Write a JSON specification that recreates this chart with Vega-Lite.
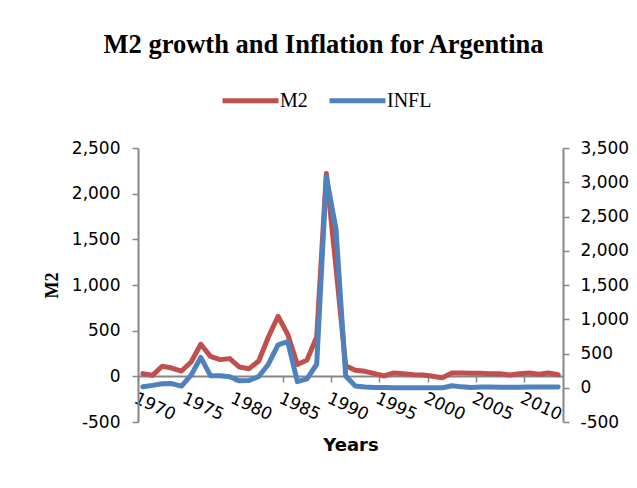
{
  "$schema": "https://vega.github.io/schema/vega-lite/v6.json",
  "width": 425,
  "height": 274,
  "autosize": {"type": "none"},
  "padding": {"left": 138, "top": 148, "right": 74, "bottom": 66},
  "background": "white",
  "title": {
    "text": "M2 growth and Inflation for  Argentina",
    "font": "Liberation Serif",
    "fontSize": 26.5,
    "fontWeight": "bold",
    "color": "black",
    "anchor": "middle",
    "dx": -27,
    "offset": 12
  },
  "data": {
    "values": [
      {"year": 1970, "M2": 30, "INFL": 14},
      {"year": 1971, "M2": 11, "INFL": 35},
      {"year": 1972, "M2": 110, "INFL": 58},
      {"year": 1973, "M2": 91, "INFL": 61},
      {"year": 1974, "M2": 58, "INFL": 24},
      {"year": 1975, "M2": 157, "INFL": 183},
      {"year": 1976, "M2": 351, "INFL": 444},
      {"year": 1977, "M2": 219, "INFL": 176},
      {"year": 1978, "M2": 183, "INFL": 175},
      {"year": 1979, "M2": 194, "INFL": 160},
      {"year": 1980, "M2": 102, "INFL": 101},
      {"year": 1981, "M2": 84, "INFL": 105},
      {"year": 1982, "M2": 168, "INFL": 165},
      {"year": 1983, "M2": 431, "INFL": 344},
      {"year": 1984, "M2": 658, "INFL": 627},
      {"year": 1985, "M2": 460, "INFL": 672},
      {"year": 1986, "M2": 130, "INFL": 90},
      {"year": 1987, "M2": 180, "INFL": 131},
      {"year": 1988, "M2": 430, "INFL": 343},
      {"year": 1989, "M2": 2222, "INFL": 3080},
      {"year": 1990, "M2": 1190, "INFL": 2314},
      {"year": 1991, "M2": 115, "INFL": 172},
      {"year": 1992, "M2": 66, "INFL": 25},
      {"year": 1993, "M2": 55, "INFL": 11},
      {"year": 1994, "M2": 29, "INFL": 4},
      {"year": 1995, "M2": 4, "INFL": 3},
      {"year": 1996, "M2": 37, "INFL": 0},
      {"year": 1997, "M2": 29, "INFL": 1},
      {"year": 1998, "M2": 18, "INFL": 1},
      {"year": 1999, "M2": 15, "INFL": -1},
      {"year": 2000, "M2": 0, "INFL": -1},
      {"year": 2001, "M2": -15, "INFL": -1},
      {"year": 2002, "M2": 37, "INFL": 30},
      {"year": 2003, "M2": 37, "INFL": 13},
      {"year": 2004, "M2": 33, "INFL": 4},
      {"year": 2005, "M2": 33, "INFL": 10},
      {"year": 2006, "M2": 29, "INFL": 11},
      {"year": 2007, "M2": 29, "INFL": 9},
      {"year": 2008, "M2": 15, "INFL": 9},
      {"year": 2009, "M2": 29, "INFL": 6},
      {"year": 2010, "M2": 37, "INFL": 10},
      {"year": 2011, "M2": 22, "INFL": 10},
      {"year": 2012, "M2": 37, "INFL": 10},
      {"year": 2013, "M2": 18, "INFL": 11}
    ]
  },
  "encoding": {
    "x": {
      "field": "year",
      "type": "quantitative",
      "scale": {"domain": [1969.5, 2013.5], "nice": false, "zero": false},
      "axis": {
        "values": [1970, 1975, 1980, 1985, 1990, 1995, 2000, 2005, 2010],
        "format": "d",
        "title": "Years",
        "titleFont": "DejaVu Sans",
        "titleFontSize": 18,
        "titleFontWeight": "bold",
        "titleColor": "black",
        "titlePadding": 14,
        "offset": -46,
        "tickOffset": -4.84,
        "labelAngle": 25,
        "labelAlign": "left",
        "labelBaseline": "top",
        "labelFont": "DejaVu Sans",
        "labelFontSize": 17,
        "labelColor": "black",
        "labelPadding": 8,
        "labelFlush": false,
        "labelOverlap": false,
        "tickSize": 6,
        "tickColor": "#868686",
        "domainColor": "#868686",
        "domainWidth": 2,
        "tickWidth": 1.5,
        "grid": false
      }
    }
  },
  "layer": [
    {
      "mark": {"type": "line", "strokeWidth": 5, "strokeJoin": "round", "strokeCap": "round"},
      "encoding": {
        "y": {
          "field": "M2",
          "type": "quantitative",
          "scale": {"domain": [-500, 2500], "nice": false, "zero": false},
          "axis": {
            "orient": "left",
            "values": [-500, 0, 500, 1000, 1500, 2000, 2500],
            "labelExpr": "replace(format(datum.value, ',.0f'), '\u2212', '-')",
            "title": "M2",
            "titleFont": "Liberation Serif",
            "titleFontSize": 18,
            "titleFontWeight": "bold",
            "titleColor": "black",
            "titlePadding": 10,
            "labelFont": "DejaVu Sans",
            "labelFontSize": 17,
            "labelColor": "black",
            "labelPadding": 12,
            "tickSize": 6,
            "tickColor": "#868686",
            "tickWidth": 1.5,
            "domainColor": "#868686",
            "domainWidth": 2,
            "grid": false
          }
        },
        "color": {
          "datum": "M2",
          "type": "nominal",
          "scale": {"domain": ["M2", "INFL"], "range": ["#C0504D", "#4F81BD"]},
          "legend": {
            "orient": "none",
            "legendX": 82,
            "legendY": -78,
            "direction": "horizontal",
            "title": null,
            "symbolType": "stroke",
            "symbolSize": 3136,
            "symbolStrokeWidth": 5,
            "labelFont": "Liberation Serif",
            "labelFontSize": 20,
            "labelColor": "black",
            "labelOffset": -1,
            "columnPadding": 11
          }
        }
      }
    },
    {
      "mark": {"type": "line", "strokeWidth": 5, "strokeJoin": "round", "strokeCap": "round"},
      "encoding": {
        "y": {
          "field": "INFL",
          "type": "quantitative",
          "scale": {"domain": [-500, 3500], "nice": false, "zero": false},
          "axis": {
            "orient": "right",
            "values": [-500, 0, 500, 1000, 1500, 2000, 2500, 3000, 3500],
            "labelExpr": "replace(format(datum.value, ',.0f'), '\u2212', '-')",
            "title": null,
            "labelFont": "DejaVu Sans",
            "labelFontSize": 17,
            "labelColor": "black",
            "labelPadding": 11,
            "tickSize": 6,
            "tickColor": "#868686",
            "tickWidth": 1.5,
            "domainColor": "#868686",
            "domainWidth": 2,
            "grid": false
          }
        },
        "color": {"datum": "INFL", "type": "nominal"}
      }
    }
  ],
  "resolve": {"scale": {"y": "independent"}},
  "config": {"view": {"stroke": null}}
}
